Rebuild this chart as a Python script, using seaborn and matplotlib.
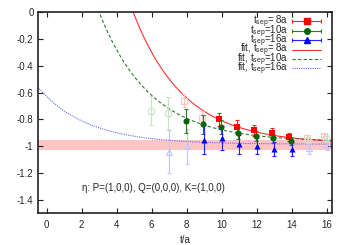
import numpy as np
import pandas as pd
import matplotlib
matplotlib.use('Agg')
import matplotlib.pyplot as plt
import seaborn as sns
from matplotlib.lines import Line2D
from matplotlib.container import ErrorbarContainer
from matplotlib.legend_handler import HandlerErrorbar

# points: t/a, value, error
t8 = [10, 11, 12, 13, 14]
y8 = [-0.80, -0.853, -0.88, -0.90, -0.93]
e8 = [0.05, 0.045, 0.04, 0.035, 0.03]
t8_out = [8, 9, 15, 16]
y8_out = [-0.66, -0.79, -0.935, -0.925]
e8_out = [0.05, 0.05, 0.02, 0.02]

t10 = [8, 9, 10, 11, 12, 13, 14]
y10 = [-0.81, -0.835, -0.855, -0.898, -0.923, -0.94, -0.96]
e10 = [0.09, 0.07, 0.05, 0.05, 0.04, 0.035, 0.03]
t10_out = [6, 7, 15, 16]
y10_out = [-0.735, -0.75, -0.95, -0.94]
e10_out = [0.11, 0.12, 0.02, 0.02]

t16 = [9, 10, 11, 12, 13, 14]
y16 = [-0.95, -0.94, -0.985, -1.0, -1.02, -1.02]
e16 = [0.11, 0.09, 0.07, 0.06, 0.05, 0.05]
t16_out = [7, 8, 15, 16]
y16_out = [-1.04, -1.0, -1.01, -0.99]
e16_out = [0.16, 0.13, 0.05, 0.04]

# fit curves y = c + b*exp(-d*t), parameters
fit_c = [-0.98, -0.965, -0.985]
fit_b = [5.43, 2.70, 0.356]
fit_d = [0.346, 0.343, 0.356]

# result band
band_lo, band_hi = -1.03, -0.953

names = ['8a', '10a', '16a']
labels = ['t$_{sep}$= 8a', 't$_{sep}$=10a', 't$_{sep}$=16a']
fit_labels = ['fit, t$_{sep}$= 8a', 'fit, t$_{sep}$=10a', 'fit, t$_{sep}$=16a']

sns.set_style('ticks')
plt.rcParams['font.family'] = ['Liberation Sans', 'DejaVu Sans']
plt.rcParams['mathtext.default'] = 'regular'
plt.rcParams['axes.unicode_minus'] = False

fig = plt.figure(figsize=(3.5, 2.45), dpi=100)
ax = fig.add_subplot(111)
fig.subplots_adjust(left=0.108, right=0.948, top=0.951, bottom=0.129)

pt_col = {'8a': '#ff0000', '10a': '#006400', '16a': '#0000ff'}
bar_col = {'8a': '#ff2020', '10a': '#2a7d2a', '16a': '#2020ff'}
faded = {'8a': '#ffc4c4', '10a': '#c8e4c8', '16a': '#c4c4ff'}
mk = {'8a': 's', '10a': 'o', '16a': '^'}
shift = {'8a': -0.12, '10a': -0.06, '16a': 0.0}
fit_col = ['#ff3030', '#2e7d2e', '#6666ff']
fit_ls = ['-', (0, (3, 2)), (0, (1, 1))]

ax.axhspan(band_lo, band_hi, color='#ffc4c4', lw=0, zorder=0)

# fit curves
tt = np.linspace(-0.5, 16.3, 400)
for i in range(3):
    curve = pd.DataFrame({'t': tt, 'y': fit_c[i] + fit_b[i] * np.exp(-fit_d[i] * tt)})
    sns.lineplot(data=curve, x='t', y='y', ax=ax, color=fit_col[i], lw=0.8,
                 linestyle=fit_ls[i], zorder=2)

series = {
    '8a': (t8, y8, e8, t8_out, y8_out, e8_out),
    '10a': (t10, y10, e10, t10_out, y10_out, e10_out),
    '16a': (t16, y16, e16, t16_out, y16_out, e16_out),
}
for n in names:
    t, y, e, to, yo, eo = series[n]
    xs = np.array(t) + shift[n]
    xo = np.array(to) + shift[n]
    ax.errorbar(xo, yo, yerr=eo, fmt=mk[n], mfc='none', mec=faded[n], ms=4.8,
                mew=0.8, ecolor=faded[n], elinewidth=0.8, capsize=1.6, capthick=0.8, zorder=3)
    ax.errorbar(xs, y, yerr=e, fmt='none', ecolor=bar_col[n], elinewidth=0.8,
                capsize=1.6, capthick=0.8, zorder=4)
    pts = pd.DataFrame({'t': xs, 'y': y})
    sns.scatterplot(data=pts, x='t', y='y', ax=ax, marker=mk[n], color=pt_col[n],
                    s=19, linewidth=0, zorder=5)

# legend proxies in gnuplot style
handles = []
for n in names:
    h = ax.errorbar([np.nan], [np.nan], xerr=[1], fmt=mk[n], color=pt_col[n], ms=4,
                    ecolor=bar_col[n], elinewidth=0.8, capsize=1.6, capthick=0.8)
    handles.append(h)
for i in range(3):
    handles.append(Line2D([], [], color=fit_col[i], lw=0.8, linestyle=fit_ls[i]))
ax.legend(handles, labels + fit_labels, loc='upper right', bbox_to_anchor=(0.977, 1.01),
          markerfirst=False, frameon=False, fontsize=7, handlelength=3.0, handleheight=0.5,
          handletextpad=0.4, labelspacing=-0.72, borderaxespad=0.0,
          handler_map={ErrorbarContainer: HandlerErrorbar(xerr_size=1.5)})

ax.text(2.0, -1.31, 'η: P=(1,0,0), Q=(0,0,0), K=(1,0,0)', fontsize=7, va='center', ha='left')

ax.set_xlim(-0.5, 16.3)
ax.set_ylim(-1.5, 0)
ax.set_xticks(range(0, 17, 2))
yt = [0, -0.2, -0.4, -0.6, -0.8, -1, -1.2, -1.4]
ax.set_yticks(yt)
ax.set_yticklabels(['0', '-0.2', '-0.4', '-0.6', '-0.8', '-1', '-1.2', '-1.4'])
ax.tick_params(direction='in', length=3.5, width=0.8, labelsize=7, top=True, right=True,
               color='#222222', pad=3)
ax.tick_params(axis='x', pad=5)
for s in ax.spines.values():
    s.set_linewidth(1.2)
    s.set_color('#222222')
ax.set_xlabel('t/a', fontsize=7, labelpad=3)
ax.set_ylabel('')

fig.savefig('out.png', dpi=100)
